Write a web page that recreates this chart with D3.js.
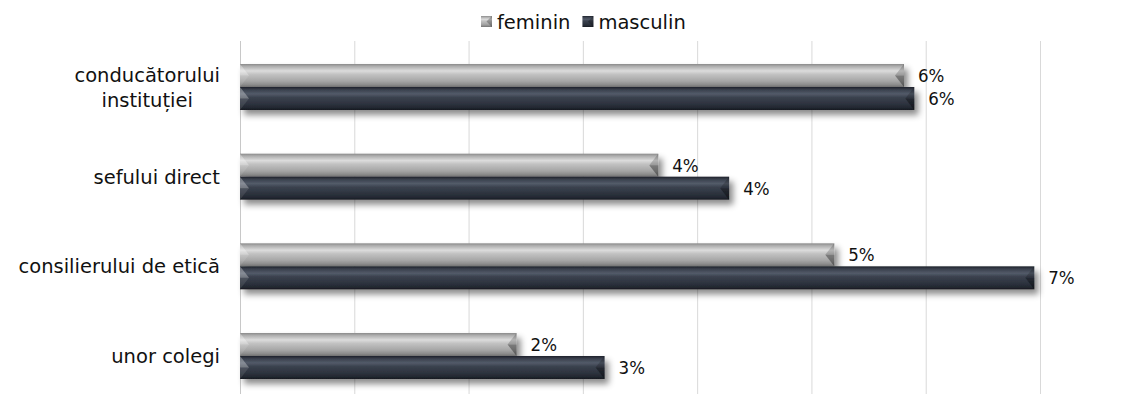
<!DOCTYPE html>
<html>
<head>
<meta charset="utf-8">
<script src="https://cdn.jsdelivr.net/npm/d3@7"></script>
<style>
  html, body { margin: 0; padding: 0; background: #fff; }
  svg { display: block; font-family: "DejaVu Sans", sans-serif; }
</style>
</head>
<body>
<svg id="chart" width="1140" height="394"></svg>
<script>
// Categories (top to bottom), each may wrap onto several lines
const categories = ["conducătorului instituției", "sefului direct", "consilierului de etică", "unor colegi"];
const categoryLines = [["conducătorului", "instituției"], ["sefului direct"], ["consilierului de etică"], ["unor colegi"]];
const seriesNames = ["feminin", "masculin"];
// Shares in percent
const feminin = [5.81, 3.66, 5.20, 2.42];
const masculin = [5.90, 4.28, 6.95, 3.19];
const gridTicks = [0, 1, 2, 3, 4, 5, 6, 7];

const svg = d3.select("#chart");
const H = 394;

const x = d3.scaleLinear().domain([0, 7]).range([240, 1040]);
const y = d3.scaleBand().domain(categories).range([41, 402]).paddingInner(0.487).paddingOuter(0.2565);
const ySub = d3.scaleBand().domain(seriesNames).range([0, y.bandwidth()]);

const defs = svg.append("defs");
const palettes = {
  feminin: [["0", "#8a8a8a"], ["0.1", "#adadad"], ["0.3", "#dcdcdc"], ["0.45", "#c2c2c2"], ["0.75", "#a5a5a5"], ["0.9", "#8c8c8c"], ["1", "#727272"]],
  masculin: [["0", "#1e222b"], ["0.12", "#3a414e"], ["0.3", "#535b69"], ["0.45", "#3b424f"], ["0.75", "#2c323d"], ["0.9", "#232831"], ["1", "#171a21"]]
};
seriesNames.forEach(s => {
  const g = defs.append("linearGradient").attr("id", "grad-" + s).attr("x1", 0).attr("x2", 0).attr("y1", 0).attr("y2", 1);
  palettes[s].forEach(([o, c]) => g.append("stop").attr("offset", o).attr("stop-color", c));
});
const shadow = defs.append("filter").attr("id", "shadow").attr("x", "-5%").attr("y", "-50%").attr("width", "115%").attr("height", "220%");
shadow.append("feDropShadow").attr("dx", 4).attr("dy", 5).attr("stdDeviation", 3).attr("flood-color", "#000").attr("flood-opacity", 0.45);

// Vertical gridlines
svg.append("g").selectAll("line").data(gridTicks).join("line")
  .attr("x1", d => x(d) + 0.5).attr("x2", d => x(d) + 0.5)
  .attr("y1", 41).attr("y2", H)
  .attr("stroke", d => d === 0 ? "#c8c8c8" : "#d9d9d9").attr("stroke-width", 1);

// Beveled bar: gradient body plus shaded chamfers on both ends
function bevelBar(g, x0, x1, y0, h, s) {
  const b = Math.min(9, (x1 - x0) / 2), ym = y0 + h / 2, y1 = y0 + h;
  g.append("rect").attr("x", x0).attr("y", y0).attr("width", x1 - x0).attr("height", h).attr("fill", `url(#grad-${s})`);
  g.append("polygon").attr("points", [[x0, y0], [x0 + b, ym], [x0, ym]].join(" ")).attr("fill", "#fff").attr("fill-opacity", 0.3);
  g.append("polygon").attr("points", [[x0, ym], [x0 + b, ym], [x0, y1]].join(" ")).attr("fill", "#fff").attr("fill-opacity", 0.1);
  g.append("polygon").attr("points", [[x1, y0], [x1 - b, ym], [x1, ym]].join(" ")).attr("fill", "#000").attr("fill-opacity", 0.18);
  g.append("polygon").attr("points", [[x1, ym], [x1 - b, ym], [x1, y1]].join(" ")).attr("fill", "#000").attr("fill-opacity", 0.35);
}

const values = { feminin, masculin };
const bars = svg.append("g");
categories.forEach((c, i) => {
  seriesNames.forEach(s => {
    const v = values[s][i];
    const y0 = y(c) + ySub(s);
    const h = ySub.bandwidth();
    const g = bars.append("g").attr("filter", "url(#shadow)");
    bevelBar(g, x(0), x(v), y0, h, s);
    svg.append("text")
      .attr("x", x(v) + 14).attr("y", y0 + h / 2).attr("dy", "0.36em")
      .attr("font-family", "'DejaVu Sans Condensed', 'DejaVu Sans', sans-serif")
      .attr("font-size", 18.5).attr("fill", "#111")
      .text(Math.round(v) + "%");
  });
});

// Category labels, multi-line labels centred within their block
const labelRight = 220, lineH = 25;
categoryLines.forEach((lines, i) => {
  const cy = y(categories[i]) + y.bandwidth() / 2;
  const g = svg.append("g");
  const texts = lines.map((t, k) => g.append("text")
    .attr("font-size", 19.5).attr("fill", "#111")
    .attr("y", cy + (k - (lines.length - 1) / 2) * lineH).attr("dy", "0.36em")
    .text(t));
  const widths = texts.map(t => t.node().getComputedTextLength());
  const wMax = d3.max(widths);
  texts.forEach((t, k) => t.attr("x", labelRight - wMax + (wMax - widths[k]) / 2));
});

// Legend
const legend = svg.append("g");
let lx = 481;
seriesNames.forEach(s => {
  const g = legend.append("g");
  g.append("rect").attr("x", lx).attr("y", 16).attr("width", 11).attr("height", 11).attr("fill", `url(#grad-${s})`);
  g.append("polygon").attr("points", [[lx + 11, 16], [lx + 5.5, 21.5], [lx + 11, 27]].join(" ")).attr("fill", "#000").attr("fill-opacity", 0.25);
  const t = g.append("text").attr("x", lx + 16).attr("y", 21.5).attr("dy", "0.36em")
    .attr("font-size", 19.5).attr("fill", "#111").text(s);
  lx += 16 + t.node().getComputedTextLength() + 12;
});
</script>
</body>
</html>
